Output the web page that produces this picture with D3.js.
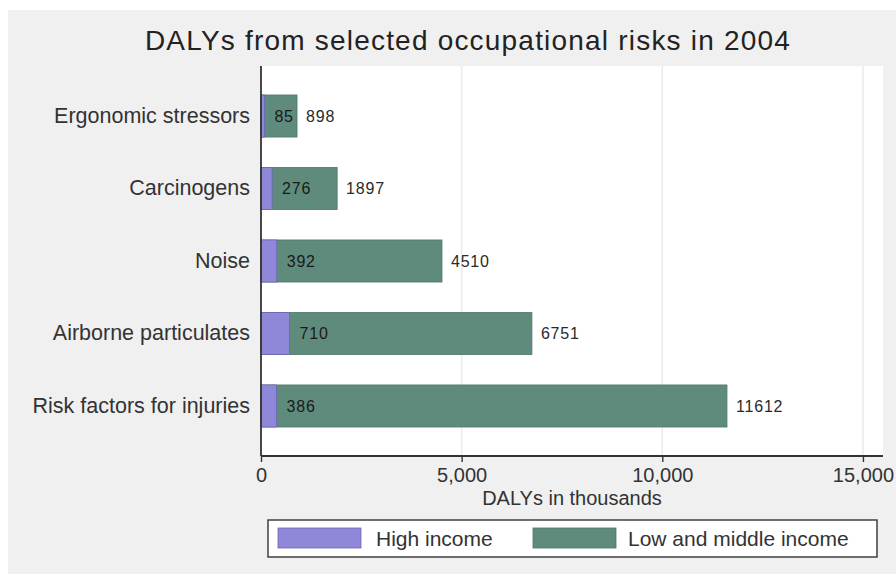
<!DOCTYPE html>
<html>
<head>
<meta charset="utf-8">
<script src="https://cdn.jsdelivr.net/npm/d3@7"></script>
<style>
  body { margin: 0; background: #fff; }
  svg { display: block; font-family: 'Liberation Sans', Arial, sans-serif; }
  .tick text { fill: #333; }
</style>
</head>
<body>
<svg width="896" height="574"></svg>
<script>
const categories = ['Ergonomic stressors', 'Carcinogens', 'Noise', 'Airborne particulates', 'Risk factors for injuries']
const highIncome = [85, 276, 392, 710, 386]
const lowMiddleIncome = [898, 1897, 4510, 6751, 11612]
const xTicks = [0, 5000, 10000, 15000]
const seriesNames = ['High income', 'Low and middle income']

const colors = { high: '#8f87d8', highStroke: '#6d66b4', low: '#5f8b7d', lowStroke: '#4d7568' }
const plot = { left: 261, right: 883, top: 66, bottom: 456 }

const data = categories.map((c, i) => ({ name: c, high: highIncome[i], low: lowMiddleIncome[i] }))

const svg = d3.select('svg')

// Background
svg.append('rect')
  .attr('x', 8).attr('y', 10)
  .attr('width', 888).attr('height', 564)
  .attr('fill', '#f0f0f0')

svg.append('rect')
  .attr('x', plot.left).attr('y', plot.top)
  .attr('width', plot.right - plot.left).attr('height', plot.bottom - plot.top)
  .attr('fill', '#fff')

const xScale = d3.scaleLinear([0, 15500], [plot.left, plot.right])

const yScale = d3.scaleBand(categories, [plot.top, plot.bottom])
  .paddingInner(0.42)
  .paddingOuter(0.4)

// Grid
svg.append('g')
  .selectAll('line')
  .data(xTicks.filter(d => d > 0))
  .join('line')
  .attr('x1', d => xScale(d)).attr('x2', d => xScale(d))
  .attr('y1', plot.top).attr('y2', plot.bottom)
  .attr('stroke', '#eaeaea')
  .attr('stroke-width', 1.5)

// Bars: low and middle income drawn from zero, high income laid over it
svg.append('g')
  .selectAll('rect')
  .data(data)
  .join('rect')
  .attr('x', xScale(0))
  .attr('y', d => yScale(d.name))
  .attr('width', d => xScale(d.low) - xScale(0))
  .attr('height', yScale.bandwidth())
  .attr('fill', colors.low)
  .attr('stroke', colors.lowStroke)
  .attr('stroke-width', 0.8)

svg.append('g')
  .selectAll('rect')
  .data(data)
  .join('rect')
  .attr('x', xScale(0))
  .attr('y', d => yScale(d.name))
  .attr('width', d => xScale(d.high) - xScale(0))
  .attr('height', yScale.bandwidth())
  .attr('fill', colors.high)
  .attr('stroke', colors.highStroke)
  .attr('stroke-width', 0.8)

// Value labels
svg.append('g')
  .selectAll('text')
  .data(data)
  .join('text')
  .attr('x', d => xScale(d.high) + 10)
  .attr('y', d => yScale(d.name) + yScale.bandwidth() / 2)
  .attr('dy', '0.36em')
  .attr('font-size', 16)
  .attr('letter-spacing', 0.8)
  .attr('fill', '#1a1a1a')
  .text(d => d.high)

svg.append('g')
  .selectAll('text')
  .data(data)
  .join('text')
  .attr('x', d => xScale(d.low) + 9)
  .attr('y', d => yScale(d.name) + yScale.bandwidth() / 2)
  .attr('dy', '0.36em')
  .attr('font-size', 16)
  .attr('letter-spacing', 0.8)
  .attr('fill', '#2a2a2a')
  .text(d => d.low)

// X Axis
const xAxis = d3.axisBottom(xScale)
  .tickValues(xTicks)
  .tickFormat(d3.format(','))
  .tickSize(6)
  .tickPadding(6)

const xAxisEl = svg.append('g')
  .attr('transform', `translate(0,${ plot.bottom })`)
  .call(xAxis)
xAxisEl.select('.domain').remove()
xAxisEl.append('line')
  .attr('x1', plot.left).attr('x2', plot.right)
  .attr('stroke', '#333').attr('stroke-width', 1.8)
xAxisEl.selectAll('.tick line').attr('stroke', '#333').attr('stroke-width', 1.4)
xAxisEl.selectAll('.tick text').attr('font-size', 20).attr('font-family', null)

svg.append('text')
  .attr('x', (plot.left + plot.right) / 2)
  .attr('y', 505)
  .attr('text-anchor', 'middle')
  .attr('font-size', 20)
  .attr('fill', '#333')
  .text('DALYs in thousands')

// Y Axis
const yAxis = d3.axisLeft(yScale)
  .tickSize(0)
  .tickPadding(11)
const yAxisEl = svg.append('g')
  .attr('transform', `translate(${ plot.left },0)`)
  .call(yAxis)
yAxisEl.select('.domain').remove()
yAxisEl.append('line')
  .attr('y1', plot.top).attr('y2', plot.bottom)
  .attr('stroke', '#333').attr('stroke-width', 1.8)
yAxisEl.selectAll('.tick text').attr('font-size', 21.5).attr('font-family', null)

// Title
svg.append('text')
  .attr('x', 468)
  .attr('y', 50)
  .attr('text-anchor', 'middle')
  .attr('font-size', 28)
  .attr('letter-spacing', 1.2)
  .attr('fill', '#222')
  .text('DALYs from selected occupational risks in 2004')

// Legend
const legend = svg.append('g')
legend.append('rect')
  .attr('x', 268).attr('y', 520)
  .attr('width', 609).attr('height', 37)
  .attr('fill', '#fff')
  .attr('stroke', '#333').attr('stroke-width', 1.4)

const legendItems = [
  { name: seriesNames[0], fill: colors.high, stroke: colors.highStroke, x: 278, tx: 376 },
  { name: seriesNames[1], fill: colors.low, stroke: colors.lowStroke, x: 533, tx: 628 },
]
legend.selectAll('rect.swatch')
  .data(legendItems)
  .join('rect')
  .classed('swatch', true)
  .attr('x', d => d.x).attr('y', 528)
  .attr('width', 83).attr('height', 20)
  .attr('fill', d => d.fill)
  .attr('stroke', d => d.stroke).attr('stroke-width', 0.8)
legend.selectAll('text')
  .data(legendItems)
  .join('text')
  .attr('x', d => d.tx).attr('y', 538)
  .attr('dy', '0.36em')
  .attr('font-size', 21)
  .attr('fill', '#333')
  .text(d => d.name)
</script>
</body>
</html>
